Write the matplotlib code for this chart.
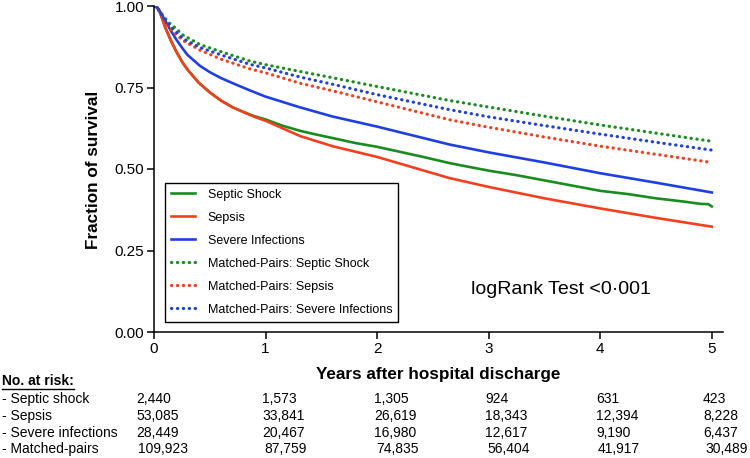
import matplotlib
matplotlib.use("Agg")
import matplotlib.pyplot as plt
from matplotlib.lines import Line2D

plt.rcParams['font.family'] = ['Liberation Sans', 'DejaVu Sans']

# ---- data ----
t_early = [0, 0.03, 0.06, 0.1, 0.15, 0.2, 0.25, 0.3, 0.4, 0.5, 0.6, 0.7, 0.8]
sepsis_early = [1.0, 0.995, 0.975, 0.935, 0.895, 0.86, 0.83, 0.805, 0.765, 0.735, 0.71, 0.69, 0.675]

t_sepsis = t_early + [0.9, 1.0, 1.31, 1.6, 2.0, 2.65, 3.0, 3.5, 4.0, 4.5, 5.0]
sepsis = sepsis_early + [0.66, 0.648, 0.601, 0.57, 0.537, 0.472, 0.445, 0.41, 0.379, 0.35, 0.323]

t_shock = t_early + [0.9, 1.0, 1.15, 1.31, 1.45, 1.6, 1.8, 2.0, 2.2, 2.4, 2.65, 2.8, 3.0,
                     3.25, 3.5, 3.75, 4.0, 4.25, 4.5, 4.75, 4.9, 4.97, 5.0]
shock = sepsis_early + [0.662, 0.652, 0.633, 0.617, 0.606, 0.595, 0.58, 0.568, 0.553, 0.538,
                        0.518, 0.508, 0.495, 0.481, 0.465, 0.449, 0.433, 0.423, 0.41, 0.4,
                        0.393, 0.392, 0.385]

t_sev = [0, 0.03, 0.06, 0.1, 0.15, 0.2, 0.26, 0.3, 0.41, 0.5, 0.6, 0.7, 0.86, 1.0, 1.31, 1.6,
         2.0, 2.65, 3.0, 3.5, 4.0, 4.5, 5.0]
severe = [1.0, 0.995, 0.98, 0.955, 0.925, 0.897, 0.868, 0.85, 0.817, 0.797, 0.779, 0.764,
          0.741, 0.722, 0.689, 0.661, 0.63, 0.575, 0.551, 0.52, 0.487, 0.458, 0.428]

t_mp = [0, 0.03, 0.06, 0.1, 0.14, 0.2, 0.26, 0.41, 0.6, 0.86, 1.0, 1.31, 1.6, 2.0, 2.65,
        3.0, 3.5, 4.0, 4.5, 5.0]
mp_shock = [1.0, 0.995, 0.98, 0.962, 0.947, 0.93, 0.911, 0.882, 0.86, 0.831, 0.82, 0.799,
            0.78, 0.753, 0.71, 0.69, 0.662, 0.635, 0.61, 0.585]
mp_severe = [1.0, 0.995, 0.978, 0.958, 0.94, 0.92, 0.9, 0.873, 0.85, 0.821, 0.81, 0.782,
             0.76, 0.728, 0.682, 0.66, 0.633, 0.607, 0.582, 0.558]
mp_sepsis = [1.0, 0.993, 0.975, 0.952, 0.932, 0.912, 0.894, 0.865, 0.837, 0.807, 0.795,
             0.763, 0.74, 0.706, 0.651, 0.628, 0.598, 0.57, 0.545, 0.52]

x_ticks = [0, 1, 2, 3, 4, 5]
y_ticks = [0.00, 0.25, 0.50, 0.75, 1.00]

risk_rows = ['- Septic shock', '- Sepsis', '- Severe infections', '- Matched-pairs']
risk_shock = ['2,440', '1,573', '1,305', '924', '631', '423']
risk_sepsis = ['53,085', '33,841', '26,619', '18,343', '12,394', '8,228']
risk_severe = ['28,449', '20,467', '16,980', '12,617', '9,190', '6,437']
risk_mp = ['109,923', '87,759', '74,835', '56,404', '41,917', '30,489']

GREEN = '#1a8c1f'
RED = '#f2401f'
BLUE = '#1f3fe0'

W, H = 750, 458
fig = plt.figure(figsize=(7.5, 4.58), dpi=100)
ax = fig.add_axes([154 / W, 1 - 332 / H, (723 - 154) / W, (332 - 6) / H])

solid_kw = dict(lw=1.9, solid_joinstyle='round')
dot_kw = dict(lw=2.3, linestyle=(0, (0.1, 1.75)), dash_capstyle='round')

ax.plot(t_shock, shock, color=GREEN, label='Septic Shock', **solid_kw)
ax.plot(t_sepsis, sepsis, color=RED, label='Sepsis', **solid_kw)
ax.plot(t_sev, severe, color=BLUE, label='Severe Infections', **solid_kw)
ax.plot(t_mp, mp_shock, color=GREEN, label='Matched-Pairs: Septic Shock', **dot_kw)
ax.plot(t_mp, mp_sepsis, color=RED, label='Matched-Pairs: Sepsis', **dot_kw)
ax.plot(t_mp, mp_severe, color=BLUE, label='Matched-Pairs: Severe Infections', **dot_kw)

ax.set_xlim(0, 5.1)
ax.set_ylim(0, 1.0)
ax.set_xticks(x_ticks)
ax.set_xticklabels([str(v) for v in x_ticks])
ax.set_yticks(y_ticks)
ax.set_yticklabels([f'{v:.2f}' for v in y_ticks])
for s in ['top', 'right']:
    ax.spines[s].set_visible(False)
for s in ['left', 'bottom']:
    ax.spines[s].set_linewidth(1.1)
ax.tick_params(axis='both', direction='out', length=5, width=1.1, labelsize=11, pad=2)
ax.patch.set_alpha(0)

leg = ax.legend(loc='lower left', bbox_to_anchor=(165 / W, 1 - 322 / H),
                bbox_transform=fig.transFigure, borderaxespad=0, fontsize=9,
                handlelength=1.9, handletextpad=1.0, labelspacing=0.88,
                borderpad=0.5, fancybox=False, framealpha=1, edgecolor='black')
leg.get_frame().set_linewidth(1.0)

ax.text(471 / W, 1 - 290 / H, 'logRank Test <0\u00b7001', transform=fig.transFigure,
        fontsize=14, ha='left', va='center')

fig.text(93 / W, 1 - 170 / H, 'Fraction of survival', rotation=90, fontsize=12.3,
         fontweight='bold', ha='center', va='center')
fig.text(438.5 / W, 1 - 375 / H, 'Years after hospital discharge', fontsize=12.3,
         fontweight='bold', ha='center', va='center')

# ---- number at risk table ----
hdr = fig.text(2 / W, 1 - 381 / H, 'No. at risk:', fontsize=10, fontweight='bold',
               ha='left', va='center')
row_y = [399, 416, 433, 449]
col_x = [136, 262, 374, 485, 596, 703]
all_vals = [risk_shock, risk_sepsis, risk_severe, risk_mp]
for i, (name, vals) in enumerate(zip(risk_rows, all_vals)):
    fig.text(2 / W, 1 - row_y[i] / H, name, fontsize=10, ha='left', va='center')
    off = 2 if i == 3 else 0
    for cx, v in zip(col_x, vals):
        fig.text((cx + off) / W, 1 - row_y[i] / H, v, fontsize=10, ha='left', va='center')

fig.canvas.draw()
bb = hdr.get_window_extent()
fig.add_artist(Line2D([bb.x0, bb.x1], [bb.y0 - 0.5, bb.y0 - 0.5], transform=None,
                      color='black', lw=1.0))

fig.savefig('out.png', dpi=100)
